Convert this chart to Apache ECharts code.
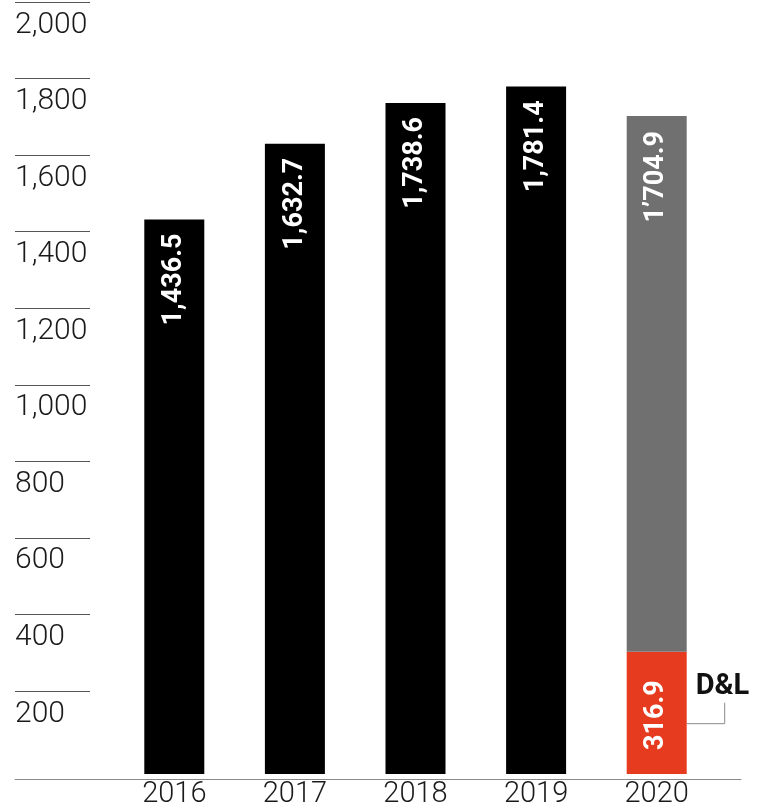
<!DOCTYPE html>
<html>
<head>
<meta charset="utf-8">
<script src="https://cdn.jsdelivr.net/npm/echarts@6/dist/echarts.min.js"></script>
<style>
  html, body { margin: 0; padding: 0; background: #fff; }
  #chart { width: 757px; height: 809px; }
</style>
</head>
<body>
<div id="chart"></div>
<script>
// Yearly totals; the 2020 column is split into the D&L share and the rest.
const years = ['2016', '2017', '2018', '2019', '2020'];
const yearTotals = [1436.5, 1632.7, 1738.6, 1781.4, 1704.9];
const dlShare2020 = 316.9;
const yTickLabels = [200, 400, 600, 800, 1000, 1200, 1400, 1600, 1800, 2000];

const BLACK = '#000000';
const GREY = '#707070';
const RED = '#e63b1f';
const FONT = 'Roboto, "Liberation Sans", sans-serif';

const last = years.length - 1;
const restOf2020 = +(yearTotals[last] - dlShare2020).toFixed(1);

function fmtComma(v) {
  return v.toLocaleString('en-US', { minimumFractionDigits: 1, maximumFractionDigits: 1 });
}
function fmtApos(v) {
  return fmtComma(v).replace(/,/g, '\u2019');
}

const valueLabelBase = {
  show: true,
  rotate: 90,
  color: '#fff',
  fontFamily: FONT,
  fontWeight: 'bold',
  fontSize: 27
};

// Lower segment: full bars for 2016-2019, D&L share for 2020
const baseData = years.map((y, i) => {
  if (i === last) {
    return {
      value: dlShare2020,
      itemStyle: { color: RED },
      label: Object.assign({}, valueLabelBase, {
        position: 'insideBottom', distance: 24, align: 'left', verticalAlign: 'middle',
        formatter: fmtComma(dlShare2020)
      })
    };
  }
  return {
    value: yearTotals[i],
    itemStyle: { color: BLACK },
    label: Object.assign({}, valueLabelBase, {
      position: 'insideTop', distance: 14, align: 'right', verticalAlign: 'middle',
      formatter: fmtComma(yearTotals[i])
    })
  };
});

// Upper segment: remainder of 2020 up to its total
const restData = years.map((y, i) => i === last ? {
  value: restOf2020,
  itemStyle: { color: GREY },
  label: Object.assign({}, valueLabelBase, {
    position: 'insideTop', distance: 15, align: 'right', verticalAlign: 'middle',
    formatter: fmtApos(yearTotals[last])
  })
} : null);

const chart = echarts.init(document.getElementById('chart'), null, { renderer: 'canvas' });

chart.setOption({
  animation: false,
  backgroundColor: '#fff',
  grid: [
    { left: 114, width: 603, top: 2, height: 777 },   // bars
    { left: 15, width: 75, top: 2, height: 689 },     // short rules + value labels
    { left: 15, right: 16, top: 2, height: 777 }      // baseline
  ],
  xAxis: [
    {
      gridIndex: 0, type: 'category', data: years,
      axisLine: { show: false }, axisTick: { show: false },
      axisLabel: { fontFamily: FONT, fontWeight: 300, fontSize: 29, color: '#1a1a1a', margin: 6 }
    },
    { gridIndex: 1, type: 'value', show: false, min: 0, max: 1 },
    {
      gridIndex: 2, type: 'value', min: 0, max: 1,
      axisLine: { show: true, lineStyle: { color: '#8a8a8a', width: 1 } },
      axisTick: { show: false }, axisLabel: { show: false }, splitLine: { show: false }
    }
  ],
  yAxis: [
    { gridIndex: 0, type: 'value', min: 0, max: 2000, show: false },
    {
      gridIndex: 1, type: 'value',
      min: yTickLabels[0], max: yTickLabels[yTickLabels.length - 1], interval: 200,
      axisLine: { show: false }, axisTick: { show: false },
      splitLine: { show: true, lineStyle: { color: '#555', width: 1 } },
      axisLabel: {
        inside: true, margin: 0, verticalAlign: 'top', padding: [8, 0, 0, 0],
        fontFamily: FONT, fontWeight: 300, fontSize: 30, color: '#1a1a1a'
      }
    },
    { gridIndex: 2, type: 'value', min: 0, max: 1, show: false }
  ],
  series: [
    {
      name: 'base', type: 'bar', stack: 'total', xAxisIndex: 0, yAxisIndex: 0,
      barWidth: 60, data: baseData
    },
    {
      name: 'rest', type: 'bar', stack: 'total', xAxisIndex: 0, yAxisIndex: 0,
      barWidth: 60, data: restData
    }
  ]
});

// D&L callout attached to the right side of the red segment
const topPt = chart.convertToPixel({ xAxisIndex: 0, yAxisIndex: 0 }, [years[last], dlShare2020]);
const rightEdge = topPt[0] + 30;
const segTop = topPt[1];
chart.setOption({
  graphic: [
    {
      type: 'polyline', silent: true,
      shape: { points: [[rightEdge, segTop + 72], [rightEdge + 38, segTop + 72], [rightEdge + 38, segTop + 51]] },
      style: { stroke: '#8a8a8a', lineWidth: 1, fill: null }
    },
    {
      type: 'text', silent: true,
      x: rightEdge + 9, y: segTop + 35,
      style: {
        text: 'D&L', fill: '#111', font: 'bold 29px ' + FONT,
        textAlign: 'left', textVerticalAlign: 'middle'
      }
    }
  ]
});
</script>
</body>
</html>
